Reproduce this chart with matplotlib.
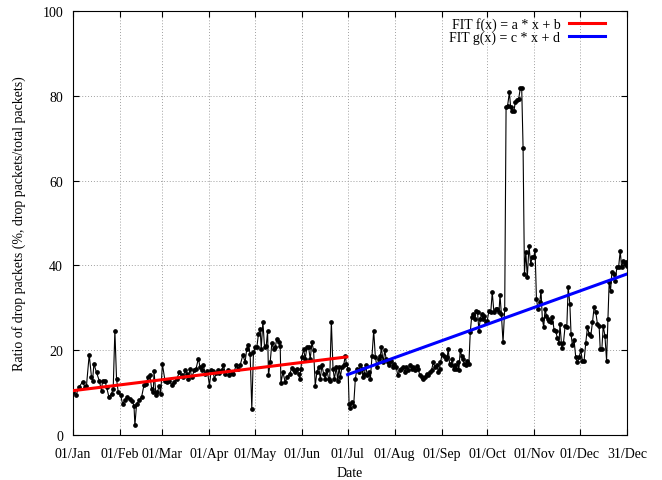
import matplotlib.pyplot as plt
import numpy as np

# day offset from 01/Jan, ratio of drop packets (%)
day_offsets = [
    0.2, 2.0, 4.2, 6.4, 7.9, 9.0, 10.8, 12.3, 13.0, 13.9, 15.6, 17.4, 18.9, 19.6,
    21.1, 22.2, 23.8, 25.5, 26.6, 27.7, 28.8, 29.9, 31.5, 32.8, 34.3, 35.9, 37.6,
    39.2, 40.3, 40.9, 42.0, 43.8, 45.3, 46.9, 48.2, 49.7, 50.8, 51.9, 53.0, 53.5,
    54.8, 55.7, 57.0, 57.9, 59.0, 60.7, 62.3, 63.6, 65.1, 66.7, 68.4, 70.2, 71.7,
    72.8, 73.9, 75.0, 76.1, 77.2, 78.3, 80.1, 81.2, 82.7, 83.8, 84.9, 86.0, 87.1,
    88.7, 90.0, 91.1, 92.2, 93.3, 94.4, 95.5, 96.6, 98.1, 99.2, 100.5, 101.9,
    103.2, 104.7, 105.8, 107.6, 109.1, 110.2, 112.0, 113.5, 114.6, 115.7, 116.8,
    117.9, 119.0,
    120.1, 121.2, 122.3, 123.4, 124.1, 125.2, 126.3, 127.4, 128.3, 128.9, 130.0,
    131.1, 132.2, 133.3, 134.4, 135.5, 136.6, 137.1, 138.4, 139.9, 141.0, 142.8,
    144.3, 145.4, 146.5, 147.6, 148.7, 149.4, 150.3, 150.9, 152.0, 153.1, 154.2,
    155.3, 156.4, 157.5, 158.6, 159.7, 160.8, 161.9, 163.0, 164.1, 165.2, 166.3,
    167.4, 168.5, 169.2, 170.3, 171.4, 172.3, 173.6, 174.5, 175.4, 176.2, 177.3,
    178.4, 179.5, 180.2,
    181.3, 182.0, 182.8, 184.2, 185.0, 186.1, 187.2, 188.3, 189.4, 190.6, 191.2,
    192.1, 193.0, 193.9, 195.0, 196.0, 197.1, 198.2, 199.3, 200.4, 201.5, 202.6,
    203.3, 204.4, 205.5, 206.4, 207.5, 208.6, 209.7, 210.8, 211.9, 213.0, 214.1,
    215.2, 216.3, 217.6, 218.7, 219.8, 220.9, 222.0, 223.1, 224.2, 225.3, 226.4,
    227.5, 228.6, 229.7, 230.8, 231.9, 233.0, 234.1, 235.2, 236.3, 237.4, 238.5,
    240.0, 240.7, 241.6, 242.2, 243.3, 244.4, 245.5, 246.6, 247.3, 248.2, 249.1,
    250.0, 250.8, 251.7, 252.6, 253.5, 254.3, 255.2, 256.1, 257.0, 257.9, 258.7,
    259.8, 260.9, 261.8, 262.7, 263.8, 264.9, 265.8, 266.6, 267.5, 268.4, 269.3,
    270.2, 271.1, 271.9, 273.0, 274.1, 275.3, 276.3, 277.4, 278.5, 279.6, 280.7,
    281.4, 282.3, 283.4, 284.5, 285.4, 286.4, 287.6, 288.4, 289.5, 290.6, 291.5,
    292.6, 293.7, 294.8, 295.7, 296.6, 297.5, 298.4, 299.4, 300.5, 301.6, 302.7,
    303.6, 304.5, 305.4, 306.4, 307.6, 308.4, 309.3, 310.2, 311.1, 312.0, 312.8,
    313.7, 314.8, 315.9, 317.0, 318.1, 319.2, 320.3, 320.9, 322.1, 323.2, 324.3,
    325.4, 326.3, 327.4, 328.2, 329.1, 330.2, 331.3, 332.4, 333.5, 334.6, 335.7,
    336.8, 337.9, 339.0, 340.1, 341.2, 342.3, 343.4, 344.5, 345.6, 346.7, 347.4,
    348.5, 349.4, 350.5, 351.6, 352.5, 353.3, 354.2, 355.1, 356.2, 357.3, 358.4,
    359.5, 360.6, 361.5, 362.6, 363.5, 364.4, 365.0,
]
drop_ratio = [
    10.1, 9.3, 11.3, 12.5, 11.3, 11.6, 18.9, 13.6, 12.8, 16.7, 14.7, 12.8, 10.4, 12.8,
    12.8, 11.3, 8.9, 9.7, 10.9, 24.6, 13.2, 10.1, 9.3, 7.3, 8.1, 9.0, 8.5,
    7.9, 6.8, 2.2, 7.3, 8.1, 8.9, 11.8, 12.1, 13.6, 14.0, 10.9, 10.1, 15.0,
    9.3, 10.1, 11.6, 9.7, 16.7, 12.8, 12.5, 12.8, 11.8, 12.5, 13.2, 14.7, 14.0,
    13.6, 15.2, 14.4, 13.2, 15.6, 13.6, 15.2, 15.6, 18.0, 16.0, 15.2, 16.4, 14.4,
    15.0, 11.6, 15.2, 15.0, 13.2, 14.5, 15.2, 14.5, 15.2, 16.4, 14.4, 15.2,
    14.2, 14.5, 14.4, 16.4, 15.6, 16.4, 18.8, 17.2, 20.3, 21.1, 19.1,
    6.1, 19.5,
    20.6, 20.6, 23.8, 25.0, 20.3, 26.7, 20.6, 21.0, 24.4, 14.0, 17.1,
    21.6, 20.3, 20.6, 22.6, 21.8, 21.0, 12.2, 14.8, 12.4, 13.6, 14.4,
    15.7, 15.2, 14.8, 15.6, 14.4, 13.2, 15.6, 18.3, 20.3, 17.9, 20.6,
    20.6, 17.9, 21.8, 19.9, 11.6, 14.8, 16.0, 13.2, 16.4, 14.4, 13.2,
    15.2, 13.2, 12.8, 26.7, 15.6, 13.2, 16.0, 12.8, 16.0, 13.6, 16.0,
    16.4, 18.7, 16.7,
    15.6, 7.3, 6.4, 7.7, 6.9, 13.2, 15.6, 14.8, 16.4, 15.6, 13.6,
    14.4, 16.4, 14.0, 14.8, 13.2, 18.7, 24.6, 18.3, 16.0, 17.9, 18.7,
    20.6, 17.1, 19.9, 17.9, 17.1, 16.4, 17.5, 16.0, 16.7, 16.0, 14.0,
    15.2, 15.6, 16.0, 14.8, 16.0, 15.2, 16.4, 15.6, 16.0, 15.2, 16.2,
    15.6, 14.0, 13.6, 13.2, 13.6, 14.4, 14.0, 14.8, 15.2, 17.1, 16.0,
    16.4, 14.8, 15.6, 17.1, 19.1, 18.7, 17.9, 18.3, 20.3, 16.7, 16.4,
    17.9, 15.6, 16.4, 15.6, 17.1, 15.2, 19.9, 18.7, 17.9, 16.7, 16.4,
    17.5, 16.7, 24.2, 27.7, 28.5, 27.3, 29.3, 28.9, 24.6, 27.3, 28.5,
    27.3, 28.1, 26.5, 26.9, 29.3, 28.9, 33.6, 28.9, 29.7, 29.7, 28.9,
    32.9, 28.5, 21.8, 29.7, 77.3, 77.7, 80.8, 77.3, 76.5, 76.5, 78.5,
    78.9, 79.3, 81.8, 81.8, 67.7, 38.0, 43.1, 37.2, 44.6, 40.3, 41.9,
    41.9, 43.6, 32.1, 29.7, 31.3, 34.0, 27.3, 25.4, 29.7, 28.1, 27.3,
    26.9, 26.5, 27.7, 24.8, 24.4, 22.9, 21.7, 26.1, 20.5, 21.7, 25.7,
    25.4, 34.8, 30.9, 23.8, 21.1, 22.3, 18.3, 17.1, 18.3, 19.9, 17.5,
    17.5, 21.7, 25.4, 23.8, 23.4, 26.5, 30.1, 28.9, 26.1, 25.7, 20.3,
    20.3, 25.7, 23.4, 17.5, 27.3, 36.0, 34.0, 38.3, 38.0, 36.4, 39.5,
    39.5, 43.4, 39.5, 41.1, 40.3, 40.7, 39.9,
]

# linear fits: first half f(x) = a*x + b, second half g(x) = c*x + d
fit_a, fit_b = 0.0442, 10.4
fit_c, fit_d = 0.129, -9.15
fit_f_range = [0.0, 180.5]
fit_g_range = [181.0, 365.0]

tick_days = [0, 31, 59, 90, 120, 151, 181, 212, 243, 273, 304, 334, 365]
tick_labels = ["01/Jan", "01/Feb", "01/Mar", "01/Apr", "01/May", "01/Jun", "01/Jul",
               "01/Aug", "01/Sep", "01/Oct", "01/Nov", "01/Dec", "31/Dec"]

plt.rcParams["font.family"] = ["Liberation Serif", "DejaVu Serif"]
plt.rcParams["font.size"] = 10

fig = plt.figure(figsize=(6.62, 4.81), dpi=100)
ax = fig.add_axes([0.110, 0.094, 0.837, 0.881])

ax.plot(day_offsets, drop_ratio, color="black", linewidth=0.8,
        marker="o", markersize=2.4, zorder=2)

xf = np.array(fit_f_range)
ax.plot(xf, fit_a * xf + fit_b, color="#ff0000", linewidth=2.2,
        label="FIT f(x) = a * x + b", zorder=3)
xg = np.array(fit_g_range)
ax.plot(xg, fit_c * xg + fit_d, color="#0000ff", linewidth=2.2,
        label="FIT g(x) = c * x + d", zorder=3)

ax.set_xlim(0, 365)
ax.set_ylim(0, 100)
ax.set_xticks(tick_days)
ax.set_xticklabels(tick_labels)
ax.set_yticks(range(0, 101, 20))
ax.tick_params(direction="in", top=True, right=True, length=4, width=0.8, labelsize=10)
ax.tick_params(axis="x", pad=9)
ax.tick_params(axis="y", pad=7)
ax.grid(True, color="#a0a0a0", linestyle=(0, (1, 2)), linewidth=0.7)

ax.set_xlabel("Date", labelpad=4)
ax.set_ylabel("Ratio of drop packets (%, drop packets/total packets)", labelpad=12)

ax.legend(loc="upper right", frameon=False, markerfirst=False, handlelength=2.6,
          borderaxespad=0.1, borderpad=0.3, labelspacing=0.0, handletextpad=0.6,
          fontsize=10, bbox_to_anchor=(0.97, 1.0))

fig.savefig("out.png", dpi=100)
